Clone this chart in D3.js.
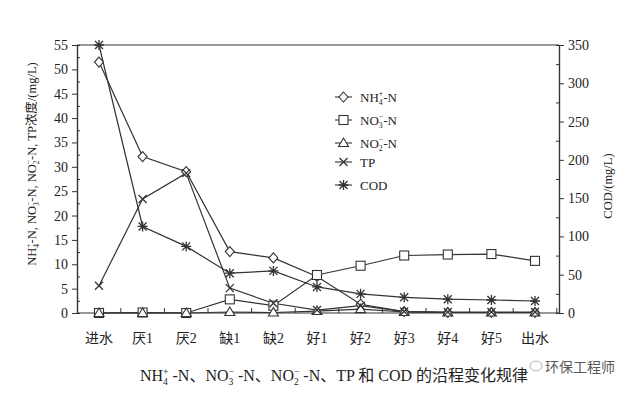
<!DOCTYPE html>
<html><head><meta charset="utf-8">
<script src="https://cdn.jsdelivr.net/npm/d3@7"></script>
<style>
body{margin:0;background:#fff;}
svg{display:block;}
text{font-family:"Liberation Serif","Times New Roman","Noto Sans CJK SC",serif;fill:#222;}
</style></head>
<body>
<svg id="c" width="636" height="405"></svg>
<script>
const categories = ["进水","厌1","厌2","缺1","缺2","好1","好2","好3","好4","好5","出水"];
const nh4 = [51.5, 32.1, 29.0, 12.6, 11.3, 7.5, 1.8, 0.3, 0.1, 0.1, 0.1];
const no3 = [0, 0.1, 0, 2.8, 1.5, 7.8, 9.7, 11.8, 12.0, 12.1, 10.7];
const no2 = [0, 0, 0, 0.2, 0.1, 0.4, 0.8, 0.2, 0.1, 0.1, 0.1];
const tp  = [5.6, 23.4, 28.7, 5.1, 2.0, 0.6, 1.5, 0.3, 0.2, 0.2, 0.2];
const cod = [350, 113, 87, 52, 55, 34, 25, 20.5, 18, 17, 15.7];
const leftTicks = [0,5,10,15,20,25,30,35,40,45,50,55];
const rightTicks = [0,50,100,150,200,250,300,350];

const svg = d3.select("#c");
const L = 77, R = 559, T = 45, B = 313;
const x = d3.scalePoint().domain(categories).range([99, 535]);
const yL = d3.scaleLinear().domain([0,55]).range([B,T]);
const yR = d3.scaleLinear().domain([0,350]).range([B,T]);
const ink = "#333";

// frame
svg.append("line").attr("x1",L).attr("x2",R).attr("y1",T).attr("y2",T).attr("stroke",ink).attr("stroke-width",1.2);

// left axis
const gL = svg.append("g").attr("transform",`translate(${L},0)`);
gL.call(d3.axisLeft(yL).tickValues(leftTicks).tickSize(5).tickPadding(4));
const gLm = gL.append("g").call(d3.axisRight(yL).tickValues(d3.range(2.5,55,5)).tickSize(3).tickFormat(""));
gLm.selectAll("text").remove();
// right axis
const gR = svg.append("g").attr("transform",`translate(${R},0)`);
gR.call(d3.axisRight(yR).tickValues(rightTicks).tickSize(5).tickPadding(4));
const gRm = gR.append("g").call(d3.axisLeft(yR).tickValues(d3.range(25,350,50)).tickSize(3).tickFormat(""));
gRm.selectAll("text").remove();
// bottom axis
const gB = svg.append("g").attr("transform",`translate(0,${B})`);
gB.append("line").attr("x1",L).attr("x2",R).attr("stroke",ink).attr("stroke-width",1.2);
const step = x.step();
const xt = [];
categories.forEach((c,i)=>{ xt.push(x(c)); xt.push(x(c)+step/2); });
xt.push(x(categories[0])-step/2);
gB.selectAll("line.t").data(xt.filter(v=>v>L+1&&v<R-1)).join("line").attr("class","t")
  .attr("x1",d=>d).attr("x2",d=>d).attr("y1",-5).attr("y2",0).attr("stroke",ink);
gB.selectAll("text").data(categories).join("text")
  .attr("x",d=>x(d)).attr("y",30).attr("text-anchor","middle")
  .style("font-size","14px").text(d=>d);

[gL,gR].forEach(g=>{
  g.selectAll(".domain").attr("stroke",ink).attr("stroke-width",1.2);
  g.selectAll(".tick line").attr("stroke",ink);
  g.selectAll(".tick text").style("font-size","14px").style("font-family","Liberation Serif").attr("fill","#222");
});

// markers
function marker(g, type, cx, cy){
  const s = 4.5;
  if(type==="diamond"){
    g.append("path").attr("d",`M${cx},${cy-s-0.5}L${cx+s},${cy}L${cx},${cy+s+0.5}L${cx-s},${cy}Z`)
      .attr("fill","#fff").attr("stroke",ink).attr("stroke-width",1.1);
  } else if(type==="square"){
    g.append("rect").attr("x",cx-4.5).attr("y",cy-4.5).attr("width",9).attr("height",9)
      .attr("fill","#fff").attr("stroke",ink).attr("stroke-width",1.1);
  } else if(type==="triangle"){
    g.append("path").attr("d",`M${cx},${cy-5}L${cx+5},${cy+3.5}L${cx-5},${cy+3.5}Z`)
      .attr("fill","#fff").attr("stroke",ink).attr("stroke-width",1.1);
  } else if(type==="x"){
    g.append("path").attr("d",`M${cx-4},${cy-4}L${cx+4},${cy+4}M${cx+4},${cy-4}L${cx-4},${cy+4}`)
      .attr("stroke",ink).attr("stroke-width",1.3);
  } else if(type==="star"){
    g.append("path").attr("d",`M${cx-4},${cy-4}L${cx+4},${cy+4}M${cx+4},${cy-4}L${cx-4},${cy+4}M${cx-5},${cy}L${cx+5},${cy}M${cx},${cy-5}L${cx},${cy+5}`)
      .attr("stroke",ink).attr("stroke-width",1.3);
  }
}

const series = [
  {vals: nh4, y: yL, m:"diamond"},
  {vals: no3, y: yL, m:"square"},
  {vals: no2, y: yL, m:"triangle"},
  {vals: tp,  y: yL, m:"x"},
  {vals: cod, y: yR, m:"star"}
];
const gS = svg.append("g");
series.forEach(s=>{
  const line = d3.line().x((d,i)=>x(categories[i])).y(d=>s.y(d));
  gS.append("path").attr("d",line(s.vals)).attr("fill","none").attr("stroke",ink).attr("stroke-width",1.2);
});
series.forEach(s=>{
  s.vals.forEach((v,i)=>marker(gS, s.m, x(categories[i]), s.y(v)));
});

// rich text helper: parts = strings or {sub, sup}; pending dy carried to next tspan
function rich(t, parts, fs){
  let pending = 0;
  parts.forEach(p=>{
    if(typeof p==="string"){
      const ts = t.append("tspan").text(p);
      if(pending) ts.attr("dy",pending);
      pending = 0;
    } else {
      const small = fs*0.6;
      t.append("tspan").attr("dy",fs*0.25).style("font-size",small+"px").text(p.sub);
      t.append("tspan").attr("dx",-small*0.5).attr("dy",-fs*0.65).style("font-size",small+"px").text(p.sup);
      pending = fs*0.4;
    }
  });
}

// legend
const legend = [
  {m:"diamond", parts:["NH",{sub:"4",sup:"+"},"-N"]},
  {m:"square", parts:["NO",{sub:"3",sup:"−"},"-N"]},
  {m:"triangle", parts:["NO",{sub:"2",sup:"−"},"-N"]},
  {m:"x", parts:["TP"]},
  {m:"star", parts:["COD"]}
];
const legY = [97, 120, 143, 162, 185];
const gLeg = svg.append("g");
legend.forEach((d,i)=>{
  const y = legY[i];
  gLeg.append("line").attr("x1",335).attr("x2",352).attr("y1",y).attr("y2",y).attr("stroke",ink).attr("stroke-width",1.1);
  marker(gLeg, d.m, 343.5, y);
  const t = gLeg.append("text").attr("x",360).attr("y",y+4.5).style("font-size","13px");
  rich(t, d.parts, 13);
});

// left axis title
const lt = svg.append("text").attr("transform","translate(36,164) rotate(-90)").attr("text-anchor","middle").style("font-size","12.5px");
rich(lt, ["NH",{sub:"4",sup:"+"},"-N, NO",{sub:"3",sup:"−"},"-N, NO",{sub:"2",sup:"−"},"-N, TP浓度/(mg/L)"], 12.5);
// right axis title
svg.append("text").attr("transform","translate(612,186) rotate(-90)").attr("text-anchor","middle").style("font-size","12.5px").text("COD/(mg/L)");

// caption
const cap = svg.append("text").attr("x",140).attr("y",381).style("font-size","16px");
rich(cap, ["NH",{sub:"4",sup:"+"}," -N、NO",{sub:"3",sup:"−"}," -N、NO",{sub:"2",sup:"−"}," -N、TP 和 COD 的沿程变化规律"], 16);

// watermark
const wm = svg.append("g").attr("opacity",0.75);
wm.append("ellipse").attr("cx",536).attr("cy",366).attr("rx",6).attr("ry",5).attr("fill","none").attr("stroke","#999");
wm.append("text").attr("x",545).attr("y",372).style("font-family","Noto Sans CJK SC").style("font-size","14px").attr("fill","#8a8a8a").text("环保工程师");
</script>
</body></html>
